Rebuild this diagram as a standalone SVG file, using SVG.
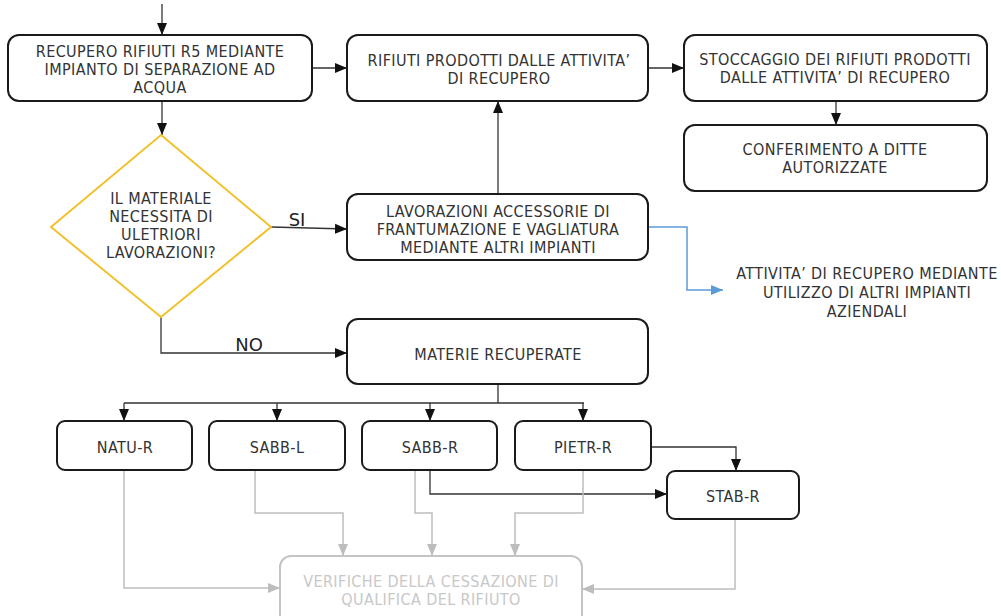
<svg xmlns="http://www.w3.org/2000/svg" width="1001" height="616" viewBox="0 0 1001 616">
<style>
.box{fill:#fff;stroke:#1a1a1a;stroke-width:2}
.gbox{fill:#fff;stroke:#c4c4c4;stroke-width:2}
.dia{fill:#fff;stroke:#f2c12e;stroke-width:2}
.t{font-family:"DejaVu Sans Condensed","DejaVu Sans",sans-serif;font-stretch:condensed;font-size:16px;letter-spacing:0.4px;fill:#333;text-anchor:middle;dominant-baseline:central}
.gt{fill:#c8c8c8}
.lbl{font-family:"DejaVu Sans",sans-serif;font-size:18px;fill:#222;text-anchor:middle;dominant-baseline:central}
.c{fill:none;stroke:#333;stroke-width:1.3}
.cb{fill:none;stroke:#5b9bd5;stroke-width:1.5}
.cg{fill:none;stroke:#bdbdbd;stroke-width:1.5}
</style>
<defs>
<marker id="ab" markerUnits="userSpaceOnUse" markerWidth="12" markerHeight="12" viewBox="0 0 12 12" refX="12" refY="6" orient="auto"><path d="M0,1 L12,6 L0,11 z" fill="#111"/></marker>
<marker id="abl" markerUnits="userSpaceOnUse" markerWidth="12" markerHeight="12" viewBox="0 0 12 12" refX="12" refY="6" orient="auto"><path d="M0,1 L12,6 L0,11 z" fill="#5b9bd5"/></marker>
<marker id="ag" markerUnits="userSpaceOnUse" markerWidth="12" markerHeight="12" viewBox="0 0 12 12" refX="12" refY="6" orient="auto"><path d="M0,1 L12,6 L0,11 z" fill="#bdbdbd"/></marker>
</defs>
<rect width="1001" height="616" fill="#fff"/>
<g id="connectors">
<path class="c" d="M162,4 V35" marker-end="url(#ab)"/>
<path class="c" d="M312,68 H347" marker-end="url(#ab)"/>
<path class="c" d="M648,68 H684" marker-end="url(#ab)"/>
<path class="c" d="M836,101 V125" marker-end="url(#ab)"/>
<path class="c" d="M162,101 V135" marker-end="url(#ab)"/>
<path class="c" d="M271,227 L347,229" marker-end="url(#ab)"/>
<path class="c" d="M498,194 V101" marker-end="url(#ab)"/>
<path class="cb" d="M648,227 H687 V290 H723" marker-end="url(#abl)"/>
<path class="c" d="M161,317 V353 H347" marker-end="url(#ab)"/>
<path class="c" d="M498,384 V403 M124,403 H584"/>
<path class="c" d="M124,403 V421" marker-end="url(#ab)"/>
<path class="c" d="M277,403 V421" marker-end="url(#ab)"/>
<path class="c" d="M430,403 V421" marker-end="url(#ab)"/>
<path class="c" d="M583,403 V421" marker-end="url(#ab)"/>
<path class="c" d="M651,447 H736 V471" marker-end="url(#ab)"/>
<path class="c" d="M430,470 V494 H667" marker-end="url(#ab)"/>
<path class="cg" d="M124,470 V588 H280" marker-end="url(#ag)"/>
<path class="cg" d="M255,470 V513 H343 V556" marker-end="url(#ag)"/>
<path class="cg" d="M415,470 V513 H432 V556" marker-end="url(#ag)"/>
<path class="cg" d="M583,470 V513 H515 V556" marker-end="url(#ag)"/>
<path class="cg" d="M735,519 V589 H582" marker-end="url(#ag)"/>
</g>
<g id="n-recupero">
<rect class="box" x="8" y="35" width="304" height="66" rx="11"/>
<text class="t" x="160" y="51">RECUPERO RIFIUTI R5 MEDIANTE</text>
<text class="t" x="160" y="69">IMPIANTO DI SEPARAZIONE AD</text>
<text class="t" x="160" y="87">ACQUA</text>
</g>
<g id="n-rifiuti">
<rect class="box" x="347" y="35" width="301" height="66" rx="11"/>
<text class="t" x="499" y="60">RIFIUTI PRODOTTI DALLE ATTIVITA’</text>
<text class="t" x="499" y="78">DI RECUPERO</text>
</g>
<g id="n-stoccaggio">
<rect class="box" x="684" y="35" width="303" height="66" rx="11"/>
<text class="t" x="835" y="59">STOCCAGGIO DEI RIFIUTI PRODOTTI</text>
<text class="t" x="835" y="77">DALLE ATTIVITA’ DI RECUPERO</text>
</g>
<g id="n-conferimento">
<rect class="box" x="684" y="125" width="303" height="66" rx="11"/>
<text class="t" x="835" y="149">CONFERIMENTO A DITTE</text>
<text class="t" x="835" y="167">AUTORIZZATE</text>
</g>
<g id="n-decisione">
<polygon class="dia" points="161,135 271,227 161,317 51,227"/>
<text class="t" x="161" y="198">IL MATERIALE</text>
<text class="t" x="161" y="216">NECESSITA DI</text>
<text class="t" x="161" y="234">ULETRIORI</text>
<text class="t" x="161" y="252">LAVORAZIONI?</text>
<text class="lbl" x="297" y="219">SI</text>
<text class="lbl" x="249" y="344">NO</text>
</g>
<g id="n-lavorazioni">
<rect class="box" x="347" y="194" width="301" height="66" rx="11"/>
<text class="t" x="498" y="211">LAVORAZIONI ACCESSORIE DI</text>
<text class="t" x="498" y="229">FRANTUMAZIONE E VAGLIATURA</text>
<text class="t" x="498" y="247">MEDIANTE ALTRI IMPIANTI</text>
</g>
<g id="n-attivita">
<text class="t" x="867" y="273">ATTIVITA’ DI RECUPERO MEDIANTE</text>
<text class="t" x="867" y="292">UTILIZZO DI ALTRI IMPIANTI</text>
<text class="t" x="867" y="311">AZIENDALI</text>
</g>
<g id="n-materie">
<rect class="box" x="347" y="319" width="301" height="65" rx="11"/>
<text class="t" x="498" y="354">MATERIE RECUPERATE</text>
</g>
<g id="n-natu">
<rect class="box" x="57" y="421" width="135" height="49" rx="8"/>
<text class="t" x="125" y="447">NATU-R</text>
</g>
<g id="n-sabbl">
<rect class="box" x="209" y="421" width="136" height="49" rx="8"/>
<text class="t" x="277" y="447">SABB-L</text>
</g>
<g id="n-sabbr">
<rect class="box" x="362" y="421" width="135" height="49" rx="8"/>
<text class="t" x="430" y="447">SABB-R</text>
</g>
<g id="n-pietr">
<rect class="box" x="515" y="421" width="136" height="49" rx="8"/>
<text class="t" x="583" y="447">PIETR-R</text>
</g>
<g id="n-stab">
<rect class="box" x="667" y="471" width="132" height="48" rx="8"/>
<text class="t" x="733" y="496">STAB-R</text>
</g>
<g id="n-verifiche">
<rect class="gbox" x="280" y="556" width="302" height="80" rx="11"/>
<text class="t gt" x="431" y="581">VERIFICHE DELLA CESSAZIONE DI</text>
<text class="t gt" x="431" y="599">QUALIFICA DEL RIFIUTO</text>
</g>
</svg>
